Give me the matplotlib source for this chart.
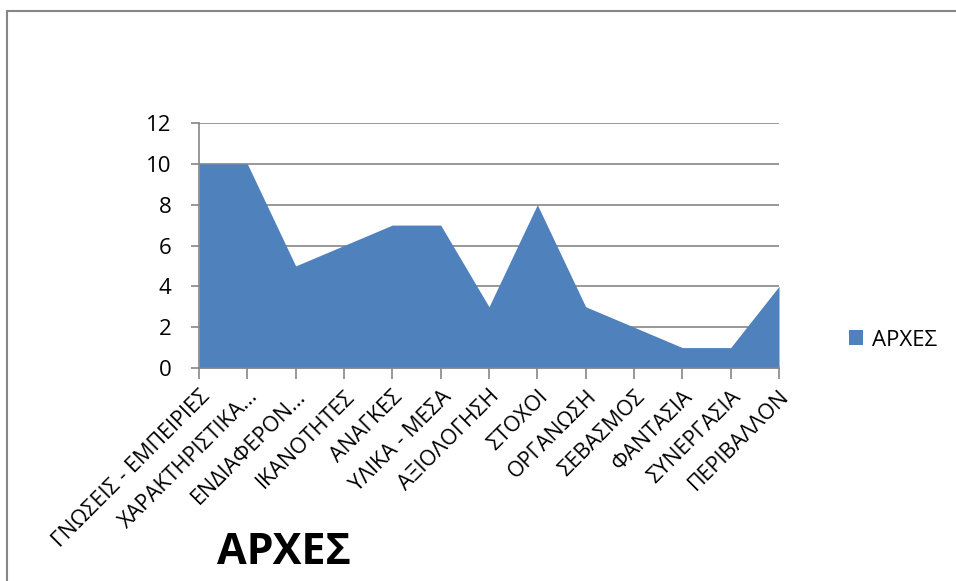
import matplotlib
matplotlib.use("Agg")
import matplotlib.pyplot as plt
from matplotlib.patches import Rectangle, Patch

plt.rcParams['font.family'] = ['Open Sans', 'DejaVu Sans']

# Categories and values
categories = ['ΓΝΩΣΕΙΣ - ΕΜΠΕΙΡΙΕΣ', 'ΧΑΡΑΚΤΗΡΙΣΤΙΚΑ...', 'ΕΝΔΙΑΦΕΡΟΝ...',
              'ΙΚΑΝΟΤΗΤΕΣ', 'ΑΝΑΓΚΕΣ', 'ΥΛΙΚΑ - ΜΕΣΑ', 'ΑΞΙΟΛΟΓΗΣΗ',
              'ΣΤΟΧΟΙ', 'ΟΡΓΑΝΩΣΗ', 'ΣΕΒΑΣΜΟΣ', 'ΦΑΝΤΑΣΙΑ', 'ΣΥΝΕΡΓΑΣΙΑ',
              'ΠΕΡΙΒΑΛΛΟΝ']
values = [10, 10, 5, 6, 7, 7, 3, 8, 3, 2, 1, 1, 4]
series_name = 'ΑΡΧΕΣ'
yticks = [0, 2, 4, 6, 8, 10, 12]

blue = '#4F81BD'
grey = '#868686'

fig = plt.figure(figsize=(9.56, 5.81), dpi=100)
ax = fig.add_axes([199/956, 1 - 368/581, 580/956, 245/581])

x = list(range(len(values)))
ax.fill_between(x, values, 0, color=blue, linewidth=0)

ax.set_xlim(0, len(values) - 1)
ax.set_ylim(0, 12)
ax.set_yticks(yticks)
ax.set_xticks(x)
ax.set_xticklabels(categories, rotation=45, ha='right', rotation_mode='anchor',
                   fontsize=15.5)
ax.tick_params(axis='y', labelsize=16, length=6, color=grey, width=1.2, pad=14)
ax.tick_params(axis='x', length=8, color=grey, width=1.2, pad=5)

ax.grid(axis='y', color=grey, linewidth=1.2)
ax.set_axisbelow(True)
for s in ['top', 'right']:
    ax.spines[s].set_visible(False)
for s in ['left', 'bottom']:
    ax.spines[s].set_color(grey)
    ax.spines[s].set_linewidth(1.2)

# legend
fig.legend(handles=[Patch(facecolor=blue, label=series_name)],
           loc='center left', bbox_to_anchor=(840/956, 1 - 340/581),
           frameon=False, fontsize=16, handlelength=0.65, handleheight=0.65,
           handletextpad=0.4, borderaxespad=0)

# title at bottom
fig.text(284/956, 1 - 553/581, series_name, fontsize=31, fontweight='bold',
         ha='center', va='center')

# outer chart border (top and left visible)
fig.patches.append(Rectangle((7/956, -0.1), 1.2, 1.1 - 11/581,
                             transform=fig.transFigure, fill=False,
                             edgecolor=grey, linewidth=1.5))

fig.savefig('out.png', dpi=100)
